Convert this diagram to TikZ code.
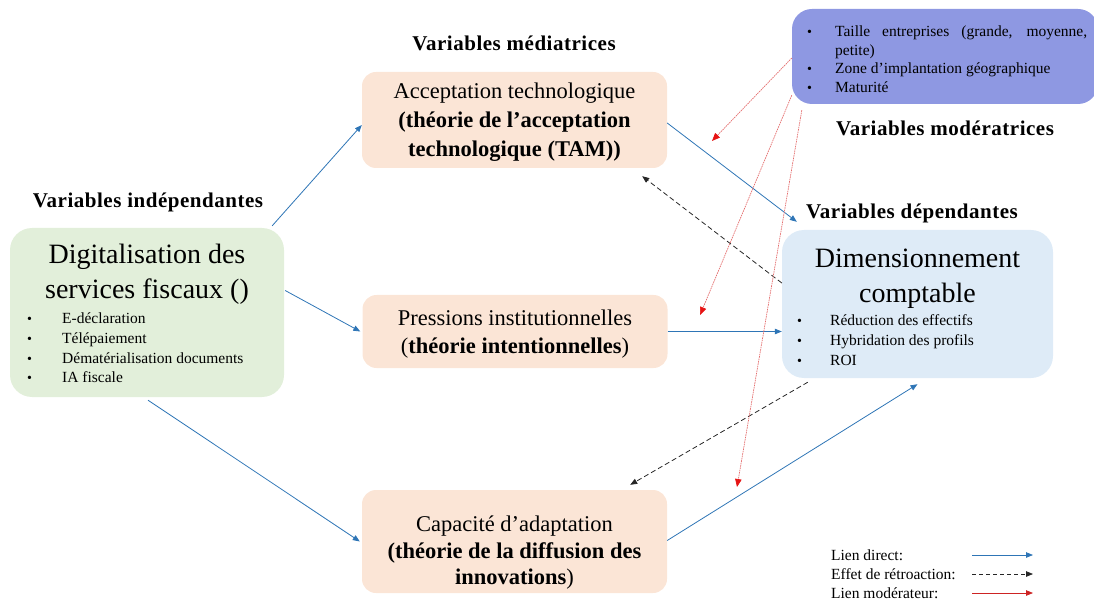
\documentclass[tikz,border=0pt]{standalone}
\usepackage{fontspec}
\setmainfont{Liberation Serif}
\newfontfamily\headfont[LetterSpace=2.5]{Liberation Serif}
\usetikzlibrary{arrows.meta}
\definecolor{boxgreen}{RGB}{226,239,218}
\definecolor{boxpeach}{RGB}{251,229,214}
\definecolor{boxblue}{RGB}{222,235,247}
\definecolor{boxpurple}{RGB}{142,152,226}
\definecolor{linkblue}{RGB}{46,117,182}
\definecolor{modred}{RGB}{228,110,110}
\definecolor{tipred}{RGB}{230,20,20}
\definecolor{legred}{RGB}{205,35,35}
\newcommand\myBul[1]{\makebox[#1][l]{\fontsize{14}{14}\selectfont\textbullet}}
\begin{document}
\begin{tikzpicture}[x=1pt,y=-1pt,
  boxbase/.style={draw=none, inner sep=0pt, rectangle},
  greenbox/.style={boxbase, fill=boxgreen, rounded corners=22pt, minimum width=274pt, minimum height=169pt},
  peachbox/.style={boxbase, fill=boxpeach, rounded corners=14pt, minimum width=305pt},
  bluebox/.style={boxbase, fill=boxblue, rounded corners=22pt, minimum width=271pt, minimum height=148pt},
  purplebox/.style={boxbase, fill=boxpurple, rounded corners=20pt, minimum width=306pt, minimum height=95pt},
  heading/.style={inner sep=0pt, font=\headfont\fontsize{21}{24}\selectfont\bfseries},
  bigtxt/.style={inner sep=0pt, align=center, font=\fontsize{28}{35}\selectfont},
  midtxt/.style={inner sep=0pt, align=center},
  listtxt/.style={inner sep=0pt, align=left, anchor=west},
  legtxt/.style={inner sep=0pt, anchor=west, font=\fontsize{15.5}{18}\selectfont},
  directlink/.style={draw=linkblue, line width=0.8pt, -{Triangle[length=7pt,width=5.5pt]}},
  feedback/.style={draw=black!85, line width=0.8pt, dash pattern=on 5pt off 3pt, -{Triangle[length=7pt,width=5.5pt]}},
  modlink/.style={draw=modred, line width=0.7pt, dash pattern=on 1.6pt off 0.8pt, -{Triangle[length=8pt,width=6.5pt,color=tipred]}},
  legmod/.style={draw=legred, line width=0.8pt, -{Triangle[length=7pt,width=5.5pt]}}
]
\useasboundingbox (0,0) rectangle (1094,601);

% boxes
\node[greenbox] (dig) at (147,312.5) {};
\node[peachbox, minimum height=96pt] (acc) at (514.5,120) {};
\node[peachbox, minimum height=73pt] (pres) at (515,331.5) {};
\node[peachbox, minimum height=103pt] (cap) at (514.5,541.5) {};
\node[bluebox] (dim) at (917.5,304) {};
\node[purplebox] (mod) at (945,56.5) {};

% headings
\node[heading] (hMed) at (514,43) {Variables médiatrices};
\node[heading] (hMod) at (945,128) {Variables modératrices};
\node[heading] (hInd) at (148,202) {Variables indépendantes};
\node[heading] (hDep) at (912,213) {Variables dépendantes};

% box texts
\node[bigtxt] (digT) at (147,274) {Digitalisation des\\services fiscaux ()};
\node[listtxt, font=\fontsize{15.5}{19.6}\selectfont] (digL) at (27,348) {\myBul{35pt}E-déclaration\\\myBul{35pt}Télépaiement\\\myBul{35pt}Dématérialisation documents\\\myBul{35pt}IA fiscale};

\node[bigtxt] (dimT) at (917.5,279) {Dimensionnement\\comptable};
\node[listtxt, font=\fontsize{15.5}{20}\selectfont] (dimL) at (797,340) {\myBul{33pt}Réduction des effectifs\\\myBul{33pt}Hybridation des profils\\\myBul{33pt}ROI};

\node[midtxt, font=\fontsize{22.5}{29}\selectfont] (accT) at (514.5,122.5) {Acceptation technologique\\\textbf{(théorie de l’acceptation}\\\textbf{technologique (TAM))}};
\node[midtxt, font=\fontsize{22.5}{28}\selectfont] (presT) at (515,334) {Pressions institutionnelles\\(\textbf{théorie intentionnelles})};
\node[midtxt, font=\fontsize{22.5}{26.5}\selectfont] (capT) at (514.5,553) {Capacité d’adaptation\\\textbf{(théorie de la diffusion des}\\\textbf{innovations})};

\node[listtxt, font=\fontsize{15.5}{18.5}\selectfont] (modL) at (807,59) {\myBul{28pt}\makebox[252pt][s]{Taille entreprises (grande, moyenne,}\\\hspace*{28pt}petite)\\\myBul{28pt}Zone d’implantation géographique\\\myBul{28pt}Maturité};

% direct links
\draw[directlink] ([xshift=-12pt,yshift=2pt]dig.north east) -- ([yshift=-5pt]acc.west);
\draw[directlink] ([xshift=1pt,yshift=22pt]dig.east) -- ([xshift=-2pt]pres.west);
\draw[directlink] ([xshift=1pt,yshift=-3pt]dig.south) -- ([xshift=-2pt]cap.west);
\draw[directlink] ([yshift=-3pt]acc.east) -- ([xshift=15pt,yshift=8pt]dim.north west);
\draw[directlink] (pres.east) -- (pres.east -| dim.west);
\draw[directlink] ([yshift=1pt]cap.east) -- ([yshift=-6pt]dim.south);

% feedback
\draw[feedback] ([yshift=21pt]dim.west) -- ([xshift=-25pt,yshift=-8pt]acc.south east);
\draw[feedback] ([xshift=26pt,yshift=-4pt]dim.south west) -- ([xshift=-37pt,yshift=5pt]cap.north east);

% moderating links
\coordinate (m1) at (712,141);
\coordinate (m2) at (700,315);
\coordinate (m3) at (737,487);
\draw[modlink] ([yshift=-1.5pt]mod.west) -- (m1);
\draw[modlink] ([yshift=9pt]mod.south west) -- (m2);
\draw[modlink] ([xshift=10pt,yshift=-6pt]mod.south west) -- (m3);

% legend
\node[legtxt] (lg1) at (831,555) {Lien direct:};
\node[legtxt] (lg2) at (831,574) {Effet de rétroaction:};
\node[legtxt] (lg3) at (831,593) {Lien modérateur:};
\coordinate (la1) at (972,555); \coordinate (lb1) at (1033,555);
\coordinate (la2) at (972,574); \coordinate (lb2) at (1033,574);
\coordinate (la3) at (972,593); \coordinate (lb3) at (1033,593);
\draw[directlink] (la1) -- (lb1);
\draw[feedback, dash pattern=on 4pt off 3pt] (la2) -- (lb2);
\draw[legmod] (la3) -- (lb3);
\end{tikzpicture}
\end{document}
